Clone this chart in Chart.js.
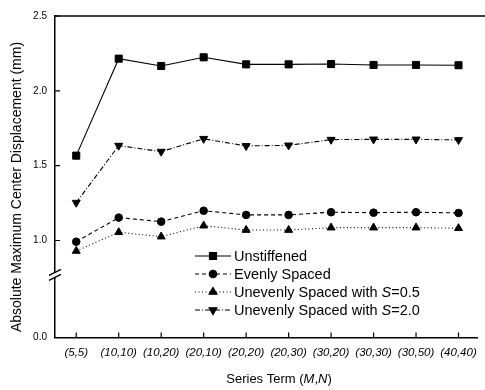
<!DOCTYPE html>
<html>
<head>
<meta charset="utf-8">
<script src="https://cdn.jsdelivr.net/npm/chart.js@4.4.0/dist/chart.umd.min.js"></script>
<style>
    html, body { margin: 0; padding: 0; background: #fff; overflow: hidden; }
    #wrap { width: 485px; height: 390px; }
</style>
</head>
<body>
<div id="wrap"><canvas id="chart" width="485" height="390"></canvas></div>
<script>
const categories = ['(5,5)', '(10,10)', '(10,20)', '(20,10)', '(20,20)', '(20,30)', '(30,20)', '(30,30)', '(30,50)', '(40,40)'];
const unstiffened = [1.567, 2.215, 2.166, 2.224, 2.177, 2.177, 2.179, 2.173, 2.173, 2.171];
const evenlySpaced = [0.992, 1.153, 1.126, 1.199, 1.171, 1.171, 1.189, 1.186, 1.189, 1.184];
const unevenS05 = [0.930, 1.055, 1.026, 1.099, 1.070, 1.070, 1.086, 1.086, 1.086, 1.082];
const unevenS20 = [1.253, 1.634, 1.594, 1.680, 1.632, 1.636, 1.674, 1.676, 1.676, 1.672];
const seriesNames = ['Unstiffened', 'Evenly Spaced', 'Unevenly Spaced with S=0.5', 'Unevenly Spaced with S=2.0'];
const yTicks = [1.0, 1.5, 2.0, 2.5];

// the axis is broken: "0.0" is drawn just below the break
const Y_ZERO_AT = 0.352;
const Y_BREAK_AT = 0.77;

const FONT = '"Liberation Sans", Arial, sans-serif';

function points(values) {
    return values.map((v, i) => ({ x: i, y: v }));
}

function series(label, values, dash, style, radius, rotation) {
    return {
        label: label,
        data: points(values),
        borderColor: '#000',
        backgroundColor: '#000',
        borderWidth: 1.1,
        borderDash: dash,
        pointStyle: style,
        pointRadius: radius,
        pointRotation: rotation || 0,
        pointBorderWidth: 1,
        tension: 0
    };
}

// draws text pieces one after another, returns total width
function drawPieces(ctx, pieces, x, y, measureOnly) {
    let w = 0;
    pieces.forEach(p => {
        ctx.font = p.font;
        if (!measureOnly) ctx.fillText(p.text, x + w, y);
        w += ctx.measureText(p.text).width;
    });
    return w;
}

function legendPieces(name) {
    const normal = '14.5px ' + FONT;
    const italic = 'italic 14.5px ' + FONT;
    const k = name.indexOf('S=');
    if (k < 0) return [{ text: name, font: normal }];
    return [
        { text: name.slice(0, k), font: normal },
        { text: 'S', font: italic },
        { text: name.slice(k + 1), font: normal }
    ];
}

const decorations = {
    id: 'decorations',
    afterDraw(chart) {
        const ctx = chart.ctx;
        const area = chart.chartArea;
        const xs = chart.scales.x;
        const ys = chart.scales.y;
        ctx.save();
        ctx.strokeStyle = '#000';
        ctx.fillStyle = '#000';

        // top frame line
        ctx.lineWidth = 1.5;
        ctx.beginPath();
        ctx.moveTo(area.left, area.top);
        ctx.lineTo(chart.width, area.top);
        ctx.stroke();

        // inward tick marks
        ctx.lineWidth = 1.2;
        ctx.beginPath();
        xs.ticks.forEach(t => {
            const px = xs.getPixelForValue(t.value);
            ctx.moveTo(px, area.bottom);
            ctx.lineTo(px, area.bottom - 5);
        });
        ys.ticks.forEach(t => {
            const py = ys.getPixelForValue(t.value);
            ctx.moveTo(area.left, py);
            ctx.lineTo(area.left + 5, py);
        });
        ctx.stroke();

        // axis break
        const by = ys.getPixelForValue(Y_BREAK_AT);
        ctx.fillStyle = '#fff';
        ctx.fillRect(area.left - 2, by - 2, 4, 4);
        ctx.fillStyle = '#000';
        ctx.lineWidth = 1.3;
        ctx.beginPath();
        [-2.5, 2.5].forEach(d => {
            ctx.moveTo(area.left - 6, by + d + 3);
            ctx.lineTo(area.left + 6, by + d - 3);
        });
        ctx.stroke();

        // legend
        const lx = 195, lw = 36, rowH = 18, ly = 256;
        chart.data.datasets.forEach((ds, i) => {
            const y = ly + i * rowH;
            ctx.lineWidth = ds.borderWidth;
            ctx.setLineDash(ds.borderDash || []);
            ctx.beginPath();
            ctx.moveTo(lx, y);
            ctx.lineTo(lx + lw, y);
            ctx.stroke();
            ctx.setLineDash([]);
            Chart.helpers.drawPoint(ctx, {
                pointStyle: ds.pointStyle,
                rotation: ds.pointRotation,
                radius: ds.pointRadius,
                borderWidth: 1
            }, lx + lw / 2, y);
            ctx.textBaseline = 'middle';
            ctx.textAlign = 'left';
            drawPieces(ctx, legendPieces(ds.label), lx + lw + 3, y + 1);
        });

        // x title with italic M and N
        const xt = [
            { text: 'Series Term (', font: '13px ' + FONT },
            { text: 'M', font: 'italic 13px ' + FONT },
            { text: ',', font: '13px ' + FONT },
            { text: 'N', font: 'italic 13px ' + FONT },
            { text: ')', font: '13px ' + FONT }
        ];
        const tw = drawPieces(ctx, xt, 0, 0, true);
        ctx.textBaseline = 'middle';
        drawPieces(ctx, xt, 279 - tw / 2, 379);

        // y title
        ctx.translate(17, 187);
        ctx.rotate(-Math.PI / 2);
        ctx.textAlign = 'center';
        ctx.font = '14px ' + FONT;
        ctx.fillText('Absolute Maximum Center Displacement (mm)', 0, 0);

        ctx.restore();
    }
};

const chart = new Chart(document.getElementById('chart'), {
    type: 'line',
    data: {
        datasets: [
            series(seriesNames[0], unstiffened, [], 'rect', 5),
            series(seriesNames[1], evenlySpaced, [4, 3], 'circle', 3.8),
            series(seriesNames[2], unevenS05, [1, 2.5], 'triangle', 4.6),
            series(seriesNames[3], unevenS20, [5, 2, 1, 2], 'triangle', 4.6, 180)
        ]
    },
    options: {
        responsive: false,
        animation: false,
        devicePixelRatio: 1,
        layout: { padding: { top: 16, left: 0, right: 0, bottom: 0 } },
        plugins: {
            legend: { display: false },
            tooltip: { enabled: false }
        },
        scales: {
            x: {
                type: 'linear',
                min: -0.5,
                max: 9.45,
                grid: { display: false, drawTicks: false },
                border: { display: true, color: '#000', width: 1.5 },
                afterBuildTicks: s => { s.ticks = categories.map((c, i) => ({ value: i })); },
                afterFit: s => { s.height = 52.5; },
                ticks: {
                    color: '#000',
                    padding: 8,
                    maxRotation: 0,
                    autoSkip: false,
                    font: { family: FONT, size: 11.5, style: 'italic' },
                    callback: v => categories[v]
                }
            },
            y: {
                type: 'linear',
                min: Y_ZERO_AT,
                max: 2.5,
                grid: { display: false, drawTicks: false },
                border: { display: true, color: '#000', width: 1.5 },
                afterBuildTicks: s => { s.ticks = [Y_ZERO_AT].concat(yTicks).map(v => ({ value: v })); },
                afterFit: s => { s.width = 55; },
                ticks: {
                    color: '#000',
                    padding: 8,
                    font: { family: FONT, size: 10 },
                    callback: v => (v === Y_ZERO_AT ? '0.0' : v.toFixed(1))
                }
            }
        }
    },
    plugins: [decorations]
});
</script>
</body>
</html>
